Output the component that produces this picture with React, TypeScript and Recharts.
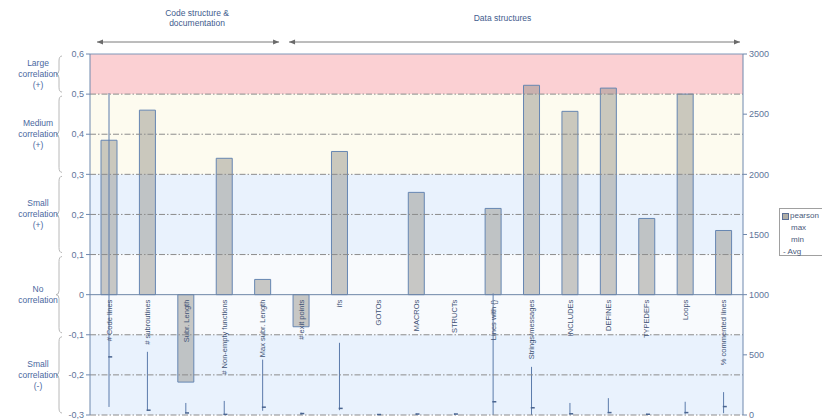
import React from "react";
import {
  ComposedChart,
  Bar,
  Line,
  XAxis,
  YAxis,
  ReferenceArea,
  ReferenceLine,
} from "recharts";

// metrics along the x axis
const categories = [
  "# Code lines",
  "# subroutines",
  "Subr. Length",
  "# Non-empty functions",
  "Max subr. Length",
  "# exit points",
  "ifs",
  "GOTOs",
  "MACROs",
  "STRUCTs",
  "Lines with {}",
  "Strings/messages",
  "INCLUDEs",
  "DEFINEs",
  "TYPEDEFs",
  "Loops",
  "% commented lines",
];

// pearson correlation (left axis)
const pearson = [0.385, 0.46, -0.218, 0.34, 0.038, -0.08, 0.357, 0, 0.255, 0, 0.215, 0.522, 0.457, 0.515, 0.19, 0.5, 0.16];

// max / min / avg of the metric (right axis)
const maxValues = [2675, 525, 100, 117, 460, 20, 600, 8, 12, 12, 1010, 400, 100, 140, 10, 110, 190];
const minValues = [67, 33, 17, 0, 35, 0, 40, 0, 0, 0, 0, 0, 5, 15, 0, 10, 15];
const avgValues = [483, 40, 17, 5, 65, 12, 55, 4, 8, 8, 110, 60, 10, 20, 6, 20, 70];

const leftTicks = [-0.3, -0.2, -0.1, 0, 0.1, 0.2, 0.3, 0.4, 0.5, 0.6];
const rightTicks = [0, 500, 1000, 1500, 2000, 2500, 3000];

const bands = [
  { from: 0.5, to: 0.6, fill: "#fbd0d3", lines: ["Large", "correlation", "(+)"] },
  { from: 0.3, to: 0.5, fill: "#fdfbef", lines: ["Medium", "correlation", "(+)"] },
  { from: 0.1, to: 0.3, fill: "#e9f2fd", lines: ["Small", "correlation", "(+)"] },
  { from: -0.1, to: 0.1, fill: "#f8fafd", lines: ["No", "correlation"] },
  { from: -0.3, to: -0.1, fill: "#e9f2fd", lines: ["Small", "correlation", "(-)"] },
];

const groups = [
  { label: ["Code structure &", "documentation"], from: "# Code lines", to: "Max subr. Length", dx: 11 },
  { label: ["Data structures"], from: "# exit points", to: "% commented lines", dx: -10 },
];

const data = categories.map((name, i) => ({
  name,
  pearson: pearson[i],
  range: [minValues[i], maxValues[i]],
  avg: avgValues[i],
  zero: 0,
}));

const fmtLeft = (v: number) => (v === 0 ? "0" : v.toFixed(1).replace(".", ","));

const bandShape = (band: any) => (props: any) => {
  const { x, y, width, height } = props;
  const bx = x - 34;
  const mid = y + height / 2;
  const t = y + 2;
  const b = y + height - 2;
  const d = `M${bx + 6},${t} Q${bx + 3},${t} ${bx + 3},${t + 5} L${bx + 3},${mid - 4} Q${bx + 3},${mid} ${bx},${mid} Q${bx + 3},${mid} ${bx + 3},${mid + 4} L${bx + 3},${b - 5} Q${bx + 3},${b} ${bx + 6},${b}`;
  const lh = 11;
  const startY = mid - ((band.lines.length - 1) * lh) / 2;
  return (
    <g>
      <rect x={x} y={y} width={width} height={height} fill={band.fill} />
      <path d={d} fill="none" stroke="#b8b8b8" strokeWidth={1} />
      <text textAnchor="middle" fontSize={8.5} fill="#4a68a0">
        {band.lines.map((l: string, i: number) => (
          <tspan key={i} x={x - 52} y={startY + i * lh} dominantBaseline="central">
            {l}
          </tspan>
        ))}
      </text>
    </g>
  );
};

const groupShape = (group: any) => (props: any) => {
  const { x, y, width } = props;
  const ay = y - 12;
  const x1 = x + 7;
  const x2 = x + width - 3;
  const cx = x + width / 2 + group.dx;
  const lh = 10;
  const startY = y - 36 - ((group.label.length - 1) * lh) / 2;
  return (
    <g>
      <line x1={x1} y1={ay} x2={x2} y2={ay} stroke="#7a7a7a" strokeWidth={1} />
      <polygon points={`${x1},${ay} ${x1 + 6},${ay - 2.5} ${x1 + 6},${ay + 2.5}`} fill="#6a6a6a" />
      <polygon points={`${x2},${ay} ${x2 - 6},${ay - 2.5} ${x2 - 6},${ay + 2.5}`} fill="#6a6a6a" />
      <text textAnchor="middle" fontSize={8.5} fill="#3f5c8e">
        {group.label.map((l: string, i: number) => (
          <tspan key={i} x={cx} y={startY + i * lh} dominantBaseline="central">
            {l}
          </tspan>
        ))}
      </text>
    </g>
  );
};

const renderRange = (p: any) => {
  const top = Math.min(p.y, p.y + p.height);
  const h = Math.abs(p.height);
  const cx = p.x + p.width / 2;
  return <line x1={cx} y1={top} x2={cx} y2={top + h} stroke="#5b7bab" strokeWidth={1} />;
};

const renderAvg = (p: any) => {
  if (p.cx == null || p.cy == null) return <g key={p.index} />;
  return (
    <line key={p.index} x1={p.cx - 1} y1={p.cy} x2={p.cx + 3} y2={p.cy} stroke="#4a6590" strokeWidth={1.5} />
  );
};

const renderLabel = (p: any) => {
  if (p.cx == null || p.cy == null) return <g key={p.index} />;
  const lx = p.cx;
  const ly = p.cy + 5;
  return (
    <text
      key={p.index}
      x={lx}
      y={ly}
      transform={`rotate(-90 ${lx} ${ly})`}
      textAnchor="end"
      dominantBaseline="central"
      fontSize={7.5}
      fill="#3f5275"
    >
      {p.payload.name}
    </text>
  );
};

export default function App() {
  return (
    <div
      style={{
        position: "absolute",
        left: 0,
        top: 0,
        width: 822,
        height: 420,
        background: "#fff",
        fontFamily: "'Liberation Sans', Arial, sans-serif",
      }}
    >
      <ComposedChart
        width={822}
        height={420}
        data={data}
        margin={{ top: 54, right: 39, left: 60, bottom: 5 }}
        barGap={-16}
      >
        <XAxis dataKey="name" hide />
        <YAxis
          yAxisId="left"
          domain={[-0.3, 0.6]}
          ticks={leftTicks}
          tickFormatter={fmtLeft}
          width={30}
          tickSize={4}
          tickMargin={2}
          stroke="#6f88ad"
          tick={{ fontSize: 9, fill: "#60749a" }}
          allowDataOverflow
        />
        <YAxis
          yAxisId="right"
          orientation="right"
          domain={[0, 3000]}
          ticks={rightTicks}
          width={40}
          tickSize={4}
          tickMargin={2}
          stroke="#6f88ad"
          tick={{ fontSize: 9, fill: "#60749a" }}
        />
        {bands.map((band, i) => (
          <ReferenceArea
            key={`band-${i}`}
            yAxisId="left"
            y1={band.from}
            y2={band.to}
            shape={bandShape(band)}
          />
        ))}
        {groups.map((g, i) => (
          <ReferenceArea key={`grp-${i}`} yAxisId="left" x1={g.from} x2={g.to} shape={groupShape(g)} />
        ))}
        {leftTicks
          .filter((t) => t !== 0 && t !== 0.6)
          .map((t) => (
            <ReferenceLine
              key={`grid-${t}`}
              yAxisId="left"
              y={t}
              stroke="#8c8c8c"
              strokeDasharray="6 2 1.5 2"
            />
          ))}
        <ReferenceLine yAxisId="left" y={0.6} stroke="#7f96b8" />
        <Bar
          yAxisId="left"
          dataKey="pearson"
          barSize={16}
          fill="rgba(140,138,128,0.45)"
          stroke="#6686b2"
          strokeWidth={1}
          isAnimationActive={false}
        />
        <Bar
          yAxisId="right"
          dataKey="range"
          barSize={16}
          shape={renderRange}
          isAnimationActive={false}
        />
        <ReferenceLine yAxisId="left" y={0} stroke="#6f86a8" />
        <Line
          yAxisId="right"
          dataKey="avg"
          stroke="none"
          dot={renderAvg}
          activeDot={false}
          isAnimationActive={false}
        />
        <Line
          yAxisId="left"
          dataKey="zero"
          stroke="none"
          dot={renderLabel}
          activeDot={false}
          isAnimationActive={false}
        />
      </ComposedChart>
      <div
        style={{
          position: "absolute",
          left: 779,
          top: 208,
          width: 60,
          height: 48,
          border: "1px solid #a0a0a0",
          background: "#fff",
          fontSize: 8,
          color: "#4a5a7a",
          lineHeight: "12px",
          boxSizing: "border-box",
          paddingTop: 1,
        }}
      >
        <div style={{ display: "flex", alignItems: "center", paddingLeft: 2 }}>
          <span
            style={{
              display: "inline-block",
              width: 5,
              height: 5,
              background: "#b0aea6",
              border: "1px solid #5a6f96",
              marginRight: 1,
            }}
          />
          pearson
        </div>
        <div style={{ paddingLeft: 11 }}>max</div>
        <div style={{ paddingLeft: 11 }}>min</div>
        <div style={{ paddingLeft: 3 }}>- Avg</div>
      </div>
    </div>
  );
}
